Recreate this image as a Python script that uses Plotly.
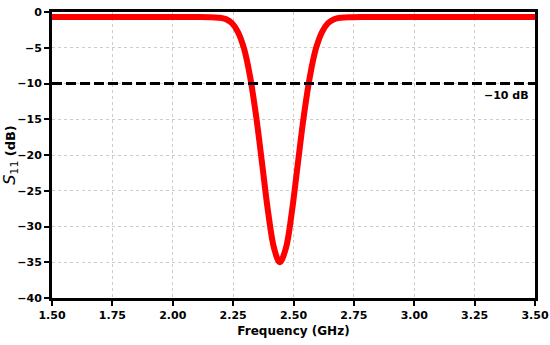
import plotly.graph_objects as go

# Frequency (GHz) and S11 (dB)
freq = [1.50, 1.75, 2.00, 2.10, 2.15, 2.19, 2.22, 2.245, 2.27, 2.295, 2.32, 2.345,
        2.37, 2.395, 2.42, 2.443, 2.468, 2.493, 2.518, 2.543, 2.568, 2.593,
        2.618, 2.643, 2.668, 2.695, 2.74, 2.80, 3.00, 3.25, 3.50]
s11 = [-0.70, -0.70, -0.70, -0.70, -0.72, -0.80, -1.00, -1.55, -2.80, -5.10, -9.00,
       -14.50, -21.20, -28.00, -33.10, -35.00, -33.10, -28.00, -21.20, -14.50,
       -9.00, -5.10, -2.80, -1.55, -1.00, -0.80, -0.72, -0.70, -0.70, -0.70, -0.70]

ref_level = -10
ref_label = "\u221210 dB"

x_ticks = [1.50, 1.75, 2.00, 2.25, 2.50, 2.75, 3.00, 3.25, 3.50]
y_ticks = [0, -5, -10, -15, -20, -25, -30, -35, -40]

font_family = "DejaVu Sans"

fig = go.Figure()
fig.add_trace(go.Scatter(
    x=freq, y=s11, mode="lines",
    line=dict(color="#ff0000", width=6, shape="spline", smoothing=1.0),
    showlegend=False, hoverinfo="skip"))
fig.add_trace(go.Scatter(
    x=[x_ticks[0], x_ticks[-1]], y=[ref_level, ref_level], mode="lines",
    line=dict(color="black", width=3, dash="10px,4px"),
    showlegend=False, hoverinfo="skip"))

fig.add_annotation(x=3.28, y=ref_level, xref="x", yref="y",
                   text="<b>" + ref_label + "</b>", showarrow=False,
                   xanchor="left", yanchor="top", yshift=-3,
                   font=dict(family=font_family, size=11, color="black"))

axis_common = dict(
    showline=True, linecolor="black", linewidth=3, mirror=True,
    ticks="outside", ticklen=5, tickwidth=2, tickcolor="black",
    showgrid=True, gridcolor="#cccccc", gridwidth=1, griddash="dot",
    zeroline=False, automargin=False,
    tickfont=dict(family=font_family, size=11, color="black"),
)

fig.update_xaxes(range=[1.5, 3.5], tickvals=x_ticks,
                 ticktext=["<b>%.2f</b>" % v for v in x_ticks],
                 title=dict(text="<b>Frequency (GHz)</b>", standoff=6,
                            font=dict(family=font_family, size=12, color="black")),
                 **axis_common)
fig.update_yaxes(range=[-40, 0], tickvals=y_ticks,
                 ticktext=[("<b>\u2212%d</b>" % -v) if v < 0 else "<b>0</b>" for v in y_ticks],
                 title=dict(text="<span style='font-size:16px'><i>S</i><sub>11</sub></span> <b>(dB)</b>",
                            standoff=9,
                            font=dict(family=font_family, size=13, color="black")),
                 **axis_common)

fig.update_layout(
    width=550, height=345,
    margin=dict(l=52, r=15, t=12, b=47),
    plot_bgcolor="white", paper_bgcolor="white",
    font=dict(family=font_family, color="black"),
)

fig.write_html("out.html", config={"displayModeBar": False},
               post_script="document.body.style.margin='0';document.body.style.padding='0';")
